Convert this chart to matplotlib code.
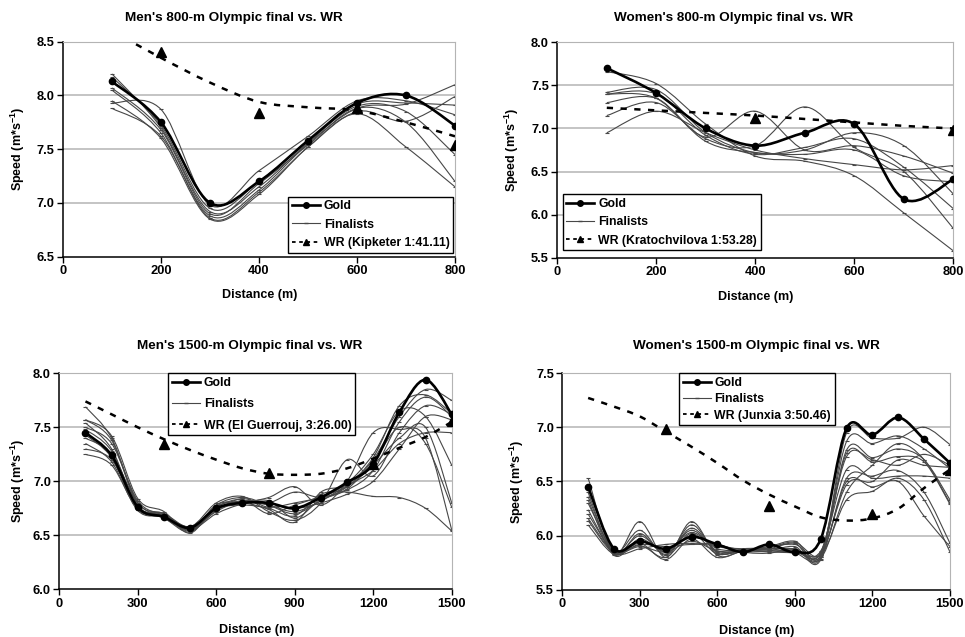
import numpy as np
import matplotlib.pyplot as plt
from matplotlib.path import Path
from matplotlib.patches import PathPatch
from matplotlib.lines import Line2D

plt.rcParams['font.family'] = ['Liberation Sans', 'DejaVu Sans']
plt.rcParams['font.weight'] = 'bold'
plt.rcParams['mathtext.fontset'] = 'custom'
plt.rcParams['mathtext.rm'] = 'Liberation Sans:bold'
plt.rcParams['mathtext.default'] = 'rm'

# ---- Men's 800 m ----
m800_dist = [100, 200, 300, 400, 500, 600, 700, 800]
m800_gold = [8.13, 7.75, 7.00, 7.20, 7.58, 7.93, 8.00, 7.72]
m800_finalists = [
    [7.88, 7.62, 6.88, 7.12, 7.55, 7.88, 7.92, 8.10],
    [8.05, 7.65, 6.86, 7.10, 7.52, 7.85, 7.76, 7.99],
    [8.17, 7.72, 6.95, 7.20, 7.58, 7.92, 7.93, 7.91],
    [7.93, 7.87, 6.98, 7.30, 7.62, 7.95, 7.95, 7.82],
    [8.20, 7.70, 6.92, 7.15, 7.56, 7.90, 7.85, 7.45],
    [8.07, 7.68, 6.90, 7.18, 7.54, 7.88, 7.75, 7.20],
    [7.95, 7.60, 6.85, 7.08, 7.52, 7.83, 7.52, 7.15],
]
m800_wr_dist = [200, 400, 600, 800]
m800_wr = [8.40, 7.84, 7.88, 7.54]
m800_wr_trend = [8.60, 8.35, 8.12, 7.94, 7.89, 7.86, 7.75, 7.62]

# ---- Women's 800 m ----
w800_dist = [100, 200, 300, 400, 500, 600, 700, 800]
w800_gold = [7.70, 7.41, 7.00, 6.80, 6.95, 7.05, 6.18, 6.41]
w800_finalists = [
    [7.42, 7.45, 6.95, 6.72, 6.75, 6.95, 6.80, 6.24],
    [7.40, 7.40, 6.92, 6.70, 6.78, 6.88, 6.55, 6.07],
    [7.30, 7.35, 6.90, 7.20, 6.75, 6.80, 6.68, 6.48],
    [7.15, 7.30, 6.88, 6.80, 7.25, 6.78, 6.50, 5.84],
    [6.95, 7.20, 6.95, 6.75, 6.65, 6.58, 6.52, 6.57],
    [7.66, 7.52, 7.05, 6.68, 6.62, 6.45, 6.02, 5.58],
    [7.40, 7.35, 6.85, 6.72, 6.70, 6.75, 6.45, 6.38],
]
w800_wr_dist = [400, 800]
w800_wr = [7.12, 6.98]
w800_wr_trend = [7.24, 7.21, 7.18, 7.15, 7.11, 7.07, 7.03, 7.00]

# ---- Men's 1500 m ----
m1500_dist = list(range(100, 1600, 100))
m1500_gold = [7.45, 7.24, 6.76, 6.67, 6.57, 6.75, 6.80, 6.80, 6.75, 6.85,
              6.99, 7.16, 7.64, 7.94, 7.62]
m1500_finalists = [
    [7.69, 7.40, 6.80, 6.70, 6.55, 6.78, 6.85, 6.78, 6.70, 6.82, 6.95, 7.20, 7.60, 7.85, 7.75],
    [7.57, 7.38, 6.78, 6.68, 6.56, 6.72, 6.82, 6.80, 6.90, 6.85, 6.92, 7.10, 7.55, 7.78, 7.60],
    [7.54, 7.30, 6.75, 6.70, 6.58, 6.80, 6.86, 6.72, 6.64, 6.80, 7.20, 7.05, 7.45, 7.70, 7.62],
    [7.50, 7.35, 6.82, 6.68, 6.54, 6.75, 6.80, 6.85, 6.95, 6.78, 7.00, 7.45, 7.48, 7.40, 6.55],
    [7.48, 7.28, 6.76, 6.66, 6.53, 6.74, 6.78, 6.75, 6.68, 6.88, 6.90, 6.86, 6.85, 6.75, 6.54],
    [7.43, 7.22, 6.74, 6.69, 6.57, 6.76, 6.83, 6.70, 6.78, 6.86, 6.95, 7.15, 7.40, 7.50, 6.80],
    [7.40, 7.25, 6.80, 6.66, 6.55, 6.70, 6.79, 6.82, 6.66, 6.84, 6.98, 7.25, 7.65, 7.60, 7.15],
    [7.35, 7.18, 6.73, 6.67, 6.56, 6.77, 6.81, 6.78, 6.72, 6.82, 6.96, 7.10, 7.35, 7.45, 7.45],
    [7.30, 7.20, 6.76, 6.70, 6.55, 6.73, 6.84, 6.76, 6.80, 6.85, 6.93, 7.18, 7.50, 7.35, 6.76],
    [7.25, 7.15, 6.74, 6.68, 6.58, 6.75, 6.82, 6.80, 6.75, 6.80, 6.88, 7.00, 7.30, 7.60, 7.57],
    [7.57, 7.42, 6.84, 6.72, 6.52, 6.78, 6.80, 6.74, 6.62, 6.90, 6.97, 7.22, 7.70, 7.80, 7.63],
]
m1500_wr_dist = [400, 800, 1200, 1500]
m1500_wr = [7.35, 7.08, 7.16, 7.56]
m1500_wr_trend = [7.74, 7.62, 7.50, 7.39, 7.29, 7.20, 7.12, 7.07, 7.06, 7.07,
                  7.12, 7.21, 7.31, 7.41, 7.55]

# ---- Women's 1500 m ----
w1500_dist = list(range(100, 1600, 100))
w1500_gold = [6.45, 5.88, 5.95, 5.88, 5.99, 5.92, 5.85, 5.92, 5.85, 5.97,
              6.99, 6.93, 7.09, 6.89, 6.67]
w1500_finalists = [
    [6.53, 5.84, 6.13, 5.80, 6.13, 5.82, 5.86, 5.88, 5.93, 5.80, 6.95, 6.90, 6.90, 7.00, 6.84],
    [6.45, 5.86, 6.05, 5.82, 6.10, 5.84, 5.87, 5.90, 5.95, 5.82, 6.87, 6.85, 6.92, 6.80, 6.62],
    [6.40, 5.83, 6.02, 5.83, 6.07, 5.85, 5.85, 5.86, 5.90, 5.78, 6.79, 6.72, 6.80, 6.70, 6.33],
    [6.36, 5.85, 6.00, 5.85, 6.05, 5.86, 5.86, 5.88, 5.88, 5.84, 6.76, 6.68, 6.73, 6.68, 6.29],
    [6.33, 5.82, 5.97, 5.86, 6.03, 5.88, 5.87, 5.90, 5.92, 5.85, 6.73, 6.70, 6.65, 6.75, 6.65],
    [6.30, 5.87, 5.95, 5.88, 6.00, 5.90, 5.88, 5.87, 5.86, 5.86, 6.61, 6.53, 6.55, 6.55, 6.53],
    [6.24, 5.84, 5.93, 5.78, 5.97, 5.80, 5.86, 5.85, 5.84, 5.80, 6.53, 6.55, 6.60, 6.40, 5.93],
    [6.20, 5.86, 5.92, 5.90, 5.92, 5.91, 5.87, 5.86, 5.85, 5.83, 6.47, 6.50, 6.70, 6.65, 6.63],
    [6.16, 5.85, 5.90, 5.85, 5.95, 5.86, 5.86, 5.89, 5.94, 5.82, 6.33, 6.41, 6.53, 6.33, 5.85],
    [6.10, 5.83, 5.91, 5.80, 6.02, 5.83, 5.88, 5.88, 5.87, 5.79, 6.40, 6.65, 6.85, 6.70, 6.30],
    [6.14, 5.84, 5.88, 5.92, 5.93, 5.92, 5.85, 5.84, 5.88, 5.81, 6.50, 6.45, 6.50, 6.18, 5.90],
]
w1500_wr_dist = [400, 800, 1200, 1500]
w1500_wr = [6.98, 6.27, 6.20, 6.61]
w1500_wr_trend = [7.27, 7.19, 7.10, 6.96, 6.82, 6.67, 6.51, 6.38, 6.27, 6.17,
                  6.14, 6.16, 6.25, 6.44, 6.61]


def smooth_path(x, y):
    # Excel-style smoothed line: Catmull-Rom as cubic Bezier segments
    x = np.asarray(x, float)
    y = np.asarray(y, float)
    n = len(x)
    verts = [(x[0], y[0])]
    codes = [Path.MOVETO]
    for i in range(n - 1):
        a = i - 1 if i > 0 else i
        d = i + 2 if i + 2 < n else i + 1
        c1 = (x[i] + (x[i + 1] - x[a]) / 6, y[i] + (y[i + 1] - y[a]) / 6)
        c2 = (x[i + 1] - (x[d] - x[i]) / 6, y[i + 1] - (y[d] - y[i]) / 6)
        verts += [c1, c2, (x[i + 1], y[i + 1])]
        codes += [Path.CURVE4] * 3
    return Path(verts, codes)


def curve(ax, x, y, **kw):
    p = PathPatch(smooth_path(x, y), fill=False, transform=ax.transData, **kw)
    ax.add_patch(p)


W, H = 965, 637
fig = plt.figure(figsize=(W / 100, H / 100), dpi=100)

panels = [
    dict(rect=(63, 41.7, 455, 256.7), dist=m800_dist, gold=m800_gold, fin=m800_finalists,
         wrx=m800_wr_dist, wry=m800_wr, trend=m800_wr_trend,
         xlim=(0, 800), xt=[0, 200, 400, 600, 800], ylim=(6.5, 8.5), yt=np.arange(6.5, 8.51, 0.5),
         title="Men's 800-m Olympic final vs. WR", tpos=(234, 18), xlpos=(260, 295), ylx=18,
         wrlabel='WR (Kipketer 1:41.11)', leg=(288.3, 196.7), lsp=0.52),
    dict(rect=(557.3, 42.3, 953.3, 257.7), dist=w800_dist, gold=w800_gold, fin=w800_finalists,
         wrx=w800_wr_dist, wry=w800_wr, trend=w800_wr_trend,
         xlim=(0, 800), xt=[0, 200, 400, 600, 800], ylim=(5.5, 8.0), yt=np.arange(5.5, 8.01, 0.5),
         title="Women's 800-m Olympic final vs. WR", tpos=(734, 18), xlpos=(756, 297), ylx=512,
         wrlabel='WR (Kratochvilova 1:53.28)', leg=(562.7, 194.3), lsp=0.52),
    dict(rect=(59.3, 373.3, 451.7, 589.3), dist=m1500_dist, gold=m1500_gold, fin=m1500_finalists,
         wrx=m1500_wr_dist, wry=m1500_wr, trend=m1500_wr_trend,
         xlim=(0, 1500), xt=[0, 300, 600, 900, 1200, 1500], ylim=(6.0, 8.0), yt=np.arange(6.0, 8.01, 0.5),
         title="Men's 1500-m Olympic final vs. WR", tpos=(250, 346), xlpos=(257, 630), ylx=18,
         wrlabel='WR (El Guerrouj, 3:26.00)', leg=(168.3, 373.3), lsp=0.76),
    dict(rect=(562.3, 373, 950, 590), dist=w1500_dist, gold=w1500_gold, fin=w1500_finalists,
         wrx=w1500_wr_dist, wry=w1500_wr, trend=w1500_wr_trend,
         xlim=(0, 1500), xt=[0, 300, 600, 900, 1200, 1500], ylim=(5.5, 7.5), yt=np.arange(5.5, 7.51, 0.5),
         title="Women's 1500-m Olympic final vs. WR", tpos=(756, 346), xlpos=(757, 631), ylx=517,
         wrlabel='WR (Junxia 3:50.46)', leg=(679, 373.3), lsp=0.35),
]

fin_color = '#474747'
grid_color = '#b4b4b4'

for pn in panels:
    x0, y0, x1, y1 = pn['rect']
    ax = fig.add_axes([x0 / W, 1 - y1 / H, (x1 - x0) / W, (y1 - y0) / H])
    ax.set_xlim(*pn['xlim'])
    ax.set_ylim(*pn['ylim'])
    ax.set_xticks(pn['xt'])
    ax.set_yticks(pn['yt'])
    ax.set_yticklabels(['%.1f' % v for v in pn['yt']])
    for v in pn['yt'][1:]:
        ax.axhline(v, color=grid_color, lw=1.1, zorder=0)
    ax.tick_params(direction='out', length=4, width=1, labelsize=9.3, pad=2)
    ax.spines['left'].set_linewidth(1.1)
    ax.spines['bottom'].set_linewidth(1.1)
    ax.spines['top'].set_color(grid_color)
    ax.spines['right'].set_color(grid_color)

    dist = pn['dist']
    for f in pn['fin']:
        curve(ax, dist, f, edgecolor=fin_color, lw=0.8, zorder=2)
        ax.plot(dist, f, linestyle='none', marker='_', ms=2.5, mew=0.8, color=fin_color, zorder=2)
    curve(ax, dist, pn['gold'], edgecolor='black', lw=1.9, zorder=3)
    ax.plot(dist, pn['gold'], linestyle='none', marker='o', ms=4.5, color='black', zorder=4)
    curve(ax, dist, pn['trend'], edgecolor='black', lw=1.8, linestyle=(0, (2.5, 3)), zorder=3)
    ax.plot(pn['wrx'], pn['wry'], linestyle='none', marker='^', ms=7.5, color='black', zorder=4)

    fig.text(pn['tpos'][0] / W, 1 - pn['tpos'][1] / H, pn['title'], ha='center', va='center',
             fontsize=9.7, fontweight='bold')
    fig.text(pn['xlpos'][0] / W, 1 - pn['xlpos'][1] / H, 'Distance (m)', ha='center', va='center',
             fontsize=9, fontweight='bold')
    fig.text(pn['ylx'] / W, 1 - ((y0 + y1) / 2) / H, 'Speed (m*s$^{-1}$)', ha='center', va='center',
             rotation=90, fontsize=9, fontweight='bold')

    handles = [
        Line2D([], [], color='black', lw=1.9, marker='o', ms=4),
        Line2D([], [], color=fin_color, lw=0.8, marker='_', ms=2.5),
        Line2D([], [], color='black', lw=1.3, linestyle=(0, (2, 2)), marker='^', ms=5),
    ]
    lg = ax.legend(handles, ['Gold', 'Finalists', pn['wrlabel']], loc='upper left',
                   bbox_to_anchor=(pn['leg'][0] / W, 1 - pn['leg'][1] / H),
                   bbox_transform=fig.transFigure, borderaxespad=0, fontsize=8.8,
                   fancybox=False, framealpha=1, edgecolor='black', handlelength=2.3,
                   handletextpad=0.3, labelspacing=pn['lsp'], borderpad=0.3)
    lg.get_frame().set_linewidth(1.0)
    for t in lg.get_texts():
        t.set_fontweight('bold')

fig.savefig('out.png', dpi=100)
